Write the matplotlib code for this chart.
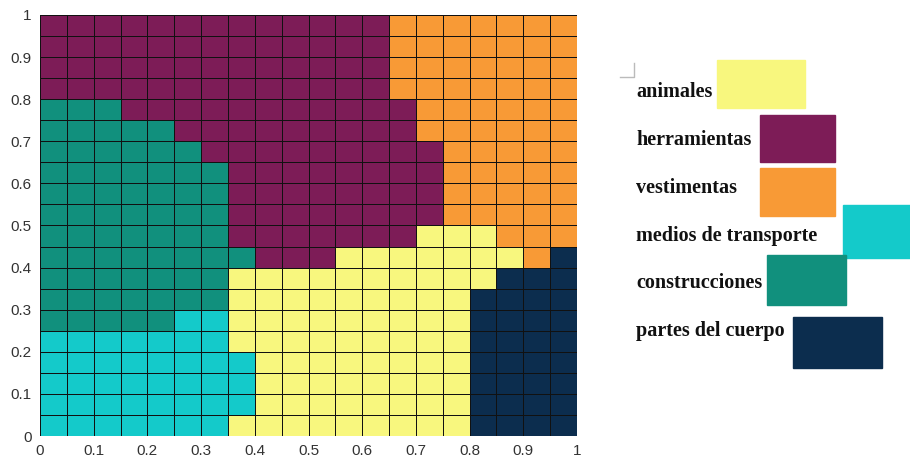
import numpy as np
import matplotlib.pyplot as plt
from matplotlib.colors import ListedColormap
from matplotlib.patches import Rectangle
from matplotlib.lines import Line2D

# category codes used in the grid
codes = ["A", "H", "V", "M", "C", "P"]
categories = ["animales", "herramientas", "vestimentas",
              "medios de transporte", "construcciones", "partes del cuerpo"]
colors = ["#F8F77E", "#7D1C57", "#F89A36", "#14CACA", "#11907D", "#0C2D4E"]

# 20x20 cells, top row first (y 0.95-1.0 down to 0-0.05)
grid_rows = [
    "HHHHHHHHHHHHHVVVVVVV",
    "HHHHHHHHHHHHHVVVVVVV",
    "HHHHHHHHHHHHHVVVVVVV",
    "HHHHHHHHHHHHHVVVVVVV",
    "CCCHHHHHHHHHHHVVVVVV",
    "CCCCCHHHHHHHHHVVVVVV",
    "CCCCCCHHHHHHHHHVVVVV",
    "CCCCCCCHHHHHHHHVVVVV",
    "CCCCCCCHHHHHHHHVVVVV",
    "CCCCCCCHHHHHHHHVVVVV",
    "CCCCCCCHHHHHHHAAAVVV",
    "CCCCCCCCHHHAAAAAAAVP",
    "CCCCCCCAAAAAAAAAAPPP",
    "CCCCCCCAAAAAAAAAPPPP",
    "CCCCCMMAAAAAAAAAPPPP",
    "MMMMMMMAAAAAAAAAPPPP",
    "MMMMMMMMAAAAAAAAPPPP",
    "MMMMMMMMAAAAAAAAPPPP",
    "MMMMMMMMAAAAAAAAPPPP",
    "MMMMMMMAAAAAAAAAPPPP",
]

ticks = [0, 0.1, 0.2, 0.3, 0.4, 0.5, 0.6, 0.7, 0.8, 0.9, 1]
tick_labels = ["0", "0.1", "0.2", "0.3", "0.4", "0.5", "0.6", "0.7", "0.8", "0.9", "1"]

W, H = 910, 461
fig = plt.figure(figsize=(W / 100, H / 100), dpi=100)

ax = fig.add_axes([40 / W, 25 / H, 537 / W, 421 / H])
Z = np.array([[codes.index(c) for c in row] for row in grid_rows[::-1]])
n = Z.shape[0]
edges = np.linspace(0, 1, n + 1)
ax.pcolormesh(edges, edges, Z, cmap=ListedColormap(colors), vmin=-0.5, vmax=5.5,
              edgecolors="#111111", linewidth=0.6)
ax.set_xlim(0, 1)
ax.set_ylim(0, 1)
ax.set_xticks(ticks)
ax.set_yticks(ticks)
ax.set_xticklabels(tick_labels)
ax.set_yticklabels(tick_labels)
ax.tick_params(length=0, labelsize=11, labelcolor="#333333", pad=6)
for lab in ax.get_xticklabels() + ax.get_yticklabels():
    lab.set_family("Liberation Sans")
for s in ax.spines.values():
    s.set_visible(False)

# legend drawn by hand, in pixel coordinates (x, y from top)
def px(x, y):
    return x / W, 1 - y / H

text_y = [92, 140, 188, 236, 283, 331]
boxes = [(717, 60, 805, 108), (760, 115, 835, 162), (760, 168, 835, 216),
         (843, 205, 910, 258), (767, 255, 846, 305), (793, 317, 882, 368)]
for name, col, ty, (x0, y0, x1, y1) in zip(categories, colors, text_y, boxes):
    bx, by = px(x0, y1)
    fig.patches.append(Rectangle((bx, by), (x1 - x0) / W, (y1 - y0) / H,
                                 transform=fig.transFigure, color=col, zorder=1))
    fig.text(*px(636, ty), name, family="Liberation Serif", fontweight="bold",
             fontsize=14.5, color="#111111", va="center", ha="left", zorder=2)

# small corner mark above the legend
fig.lines.append(Line2D([620 / W, 634 / W, 634 / W],
                        [1 - 77 / H, 1 - 77 / H, 1 - 63 / H],
                        transform=fig.transFigure, color="#bbbbbb", linewidth=1))

fig.savefig("out.png", dpi=100)
